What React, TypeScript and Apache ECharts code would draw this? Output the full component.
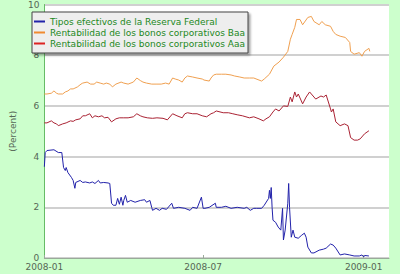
import React, { useEffect, useRef } from "react";
import * as echarts from "echarts";

const seriesNames = [
  "Tipos efectivos de la Reserva Federal",
  "Rentabilidad de los bonos corporativos Baa",
  "Rentabilidad de los bonos corporativos Aaa",
];

// days since 2008-01-01
const fedDays = [0, 1, 3, 11, 16, 20, 22, 24, 25, 27, 31, 33, 35, 36, 41, 44, 47, 52, 55, 58, 62, 64, 68, 73, 75, 77, 79, 82, 84, 86, 88, 90, 91, 93, 95, 99, 104, 110, 115, 117, 121, 123, 124, 128, 132, 135, 140, 146, 148, 154, 161, 167, 170, 175, 180, 182, 184, 189, 196, 197, 203, 208, 214, 221, 229, 232, 236, 240, 243, 249, 252, 257, 258, 259, 260, 261, 262, 265, 268, 271, 273, 274, 276, 279, 280, 281, 283, 285, 287, 291, 295, 298, 300, 302, 306, 309, 315, 320, 323, 328, 331, 334, 339, 344, 350, 355, 361, 364, 366, 367, 372];
const fedValues = [3.6, 4.16, 4.24, 4.27, 4.16, 4.16, 3.57, 3.45, 3.57, 3.37, 3.18, 3.06, 2.75, 2.98, 3.06, 2.98, 3.0, 2.96, 3.0, 2.94, 3.06, 2.96, 2.98, 2.96, 2.94, 2.16, 2.08, 2.08, 2.35, 2.12, 2.4, 2.08, 2.27, 2.47, 2.2, 2.27, 2.2, 2.27, 2.3, 2.2, 2.27, 2.0, 1.88, 1.96, 1.88, 1.96, 1.92, 2.16, 1.96, 2.0, 1.96, 1.88, 2.0, 1.96, 2.4, 1.96, 1.96, 2.0, 2.16, 2.0, 2.0, 2.04, 1.96, 2.0, 1.96, 2.0, 1.88, 1.96, 1.96, 1.96, 2.08, 2.35, 2.67, 2.35, 2.78, 2.0, 1.49, 1.41, 1.22, 1.1, 1.96, 0.71, 1.1, 2.16, 2.94, 2.0, 0.82, 1.1, 0.82, 0.78, 0.9, 0.98, 0.82, 0.43, 0.2, 0.2, 0.31, 0.35, 0.39, 0.55, 0.51, 0.39, 0.12, 0.16, 0.12, 0.08, 0.08, 0.12, 0.04, 0.1, 0.08];

const baaDays = [0, 3, 8, 11, 14, 16, 21, 24, 27, 30, 33, 35, 38, 42, 44, 49, 53, 57, 60, 64, 68, 71, 75, 78, 82, 88, 91, 96, 102, 106, 110, 113, 117, 123, 128, 134, 139, 143, 147, 150, 154, 158, 161, 164, 170, 175, 181, 183, 189, 191, 194, 197, 203, 208, 214, 218, 224, 229, 235, 240, 246, 249, 252, 258, 263, 269, 274, 279, 282, 284, 287, 289, 293, 296, 302, 306, 309, 315, 318, 322, 328, 331, 334, 339, 345, 350, 351, 355, 361, 364, 367, 372, 373];
const baaValues = [6.47, 6.47, 6.5, 6.59, 6.5, 6.47, 6.47, 6.55, 6.59, 6.67, 6.67, 6.7, 6.75, 6.86, 6.9, 6.94, 6.86, 6.86, 6.94, 6.9, 6.86, 6.9, 6.86, 6.75, 6.86, 6.94, 6.9, 6.86, 6.94, 7.1, 7.0, 6.94, 6.9, 6.86, 6.86, 6.86, 6.9, 6.86, 7.1, 7.06, 7.02, 6.94, 7.1, 7.18, 7.14, 7.1, 7.06, 7.02, 6.98, 7.1, 7.22, 7.25, 7.25, 7.25, 7.22, 7.18, 7.14, 7.1, 7.1, 7.1, 7.02, 6.98, 7.06, 7.25, 7.57, 7.73, 7.92, 8.15, 8.63, 8.82, 9.1, 9.41, 9.41, 9.2, 9.49, 9.53, 9.33, 9.2, 9.33, 9.2, 9.14, 8.94, 8.82, 8.75, 8.7, 8.5, 8.15, 8.04, 8.1, 7.96, 8.15, 8.27, 8.15];

const aaaDays = [0, 3, 8, 11, 14, 16, 21, 25, 30, 33, 36, 41, 44, 47, 52, 55, 58, 62, 66, 69, 73, 77, 82, 86, 91, 96, 102, 106, 110, 113, 118, 124, 129, 136, 141, 147, 152, 158, 161, 164, 170, 175, 181, 186, 191, 194, 197, 205, 211, 216, 221, 227, 235, 240, 246, 251, 254, 258, 262, 265, 269, 274, 279, 282, 284, 287, 289, 291, 296, 300, 304, 307, 311, 317, 320, 323, 328, 329, 331, 334, 339, 344, 348, 351, 355, 359, 362, 367, 372];
const aaaValues = [5.33, 5.33, 5.41, 5.33, 5.29, 5.22, 5.29, 5.33, 5.41, 5.39, 5.45, 5.49, 5.61, 5.61, 5.69, 5.53, 5.61, 5.57, 5.61, 5.53, 5.55, 5.37, 5.49, 5.53, 5.53, 5.53, 5.57, 5.69, 5.61, 5.57, 5.53, 5.51, 5.53, 5.51, 5.45, 5.69, 5.61, 5.53, 5.69, 5.73, 5.69, 5.69, 5.61, 5.57, 5.69, 5.73, 5.8, 5.73, 5.73, 5.69, 5.65, 5.61, 5.53, 5.57, 5.49, 5.41, 5.49, 5.57, 5.76, 5.88, 5.8, 6.0, 5.98, 6.35, 6.16, 6.55, 6.35, 6.47, 6.08, 6.35, 6.55, 6.43, 6.27, 6.39, 6.35, 6.43, 5.88, 5.76, 5.88, 5.37, 5.22, 5.29, 5.22, 4.75, 4.65, 4.65, 4.7, 4.9, 5.02];

const xTickDates = ["2008-01-01", "2008-07-01", "2009-01-01"];
const xTickLabels = ["2008-01", "2008-07", "2009-01"];
const xMinDate = "2008-01-01";
const xMaxDate = "2009-01-30";

const DAY = 86400000;
const toTs = (s: string) => Date.parse(s + "T00:00:00Z");
const START = toTs(xMinDate);
const pairs = (days: number[], vals: number[]) => days.map((d, i) => [START + d * DAY, vals[i]]);

export default function App() {
  const ref = useRef<HTMLDivElement>(null);
  useEffect(() => {
    if (!ref.current) return;
    const chart = echarts.init(ref.current, null, { renderer: "svg" });
    const tickTs = xTickDates.map(toTs);
    const font = "DejaVu Sans, Verdana, sans-serif";
    chart.setOption({
      animation: false,
      backgroundColor: "#ccffcc",
      textStyle: { fontFamily: font },
      grid: {
        left: 28,
        right: 11,
        top: 3,
        bottom: 16,
        show: true,
        backgroundColor: "#ffffff",
        borderWidth: 0,
      },
      legend: {
        orient: "vertical",
        left: 32,
        top: 12,
        padding: [4, 3, 4, 2],
        itemGap: 0,
        itemWidth: 11,
        itemHeight: 2,
        icon: "rect",
        backgroundColor: "#eeeeee",
        borderColor: "#444444",
        borderWidth: 1,
        shadowColor: "rgba(0,0,0,0.35)",
        shadowBlur: 2,
        shadowOffsetX: 2,
        shadowOffsetY: 2,
        textStyle: { color: "#228822", fontSize: 9, lineHeight: 11, fontFamily: font },
        data: seriesNames,
      },
      xAxis: {
        type: "value",
        min: toTs(xMinDate),
        max: toTs(xMaxDate),
        axisLine: { show: true, lineStyle: { color: "#99aa99", width: 1 } },
        axisTick: { show: true, inside: true, length: 3, customValues: tickTs, lineStyle: { color: "#99aa99" } },
        axisLabel: {
          customValues: tickTs,
          color: "#556655",
          fontSize: 9,
          margin: 4,
          fontFamily: font,
          formatter: (v: number) => {
            const i = tickTs.indexOf(v);
            return i >= 0 ? xTickLabels[i] : "";
          },
        },
        splitLine: { show: false },
      },
      yAxis: {
        type: "value",
        min: 0,
        max: 10,
        interval: 2,
        name: "(Percent)",
        nameLocation: "middle",
        nameGap: 17,
        nameTextStyle: { color: "#556655", fontSize: 9, fontFamily: font },
        axisLine: { show: true, lineStyle: { color: "#66bb66", width: 1 } },
        axisTick: { show: false },
        axisLabel: { color: "#556655", fontSize: 9, margin: 5, fontFamily: font },
        splitLine: { show: true, lineStyle: { color: "#d0d0d0", width: 2 } },
      },
      series: [
        {
          name: seriesNames[0],
          type: "line",
          data: pairs(fedDays, fedValues),
          showSymbol: false,
          color: "#2222aa",
          lineStyle: { width: 1, color: "#2222aa" },
        },
        {
          name: seriesNames[1],
          type: "line",
          data: pairs(baaDays, baaValues),
          showSymbol: false,
          color: "#f08a30",
          lineStyle: { width: 1, color: "#f0a050" },
        },
        {
          name: seriesNames[2],
          type: "line",
          data: pairs(aaaDays, aaaValues),
          showSymbol: false,
          color: "#dd2222",
          lineStyle: { width: 1, color: "#aa2233" },
        },
      ],
    });
    return () => chart.dispose();
  }, []);
  return <div ref={ref} style={{ width: 400, height: 274, position: "fixed", left: 0, top: 0 }} />;
}
